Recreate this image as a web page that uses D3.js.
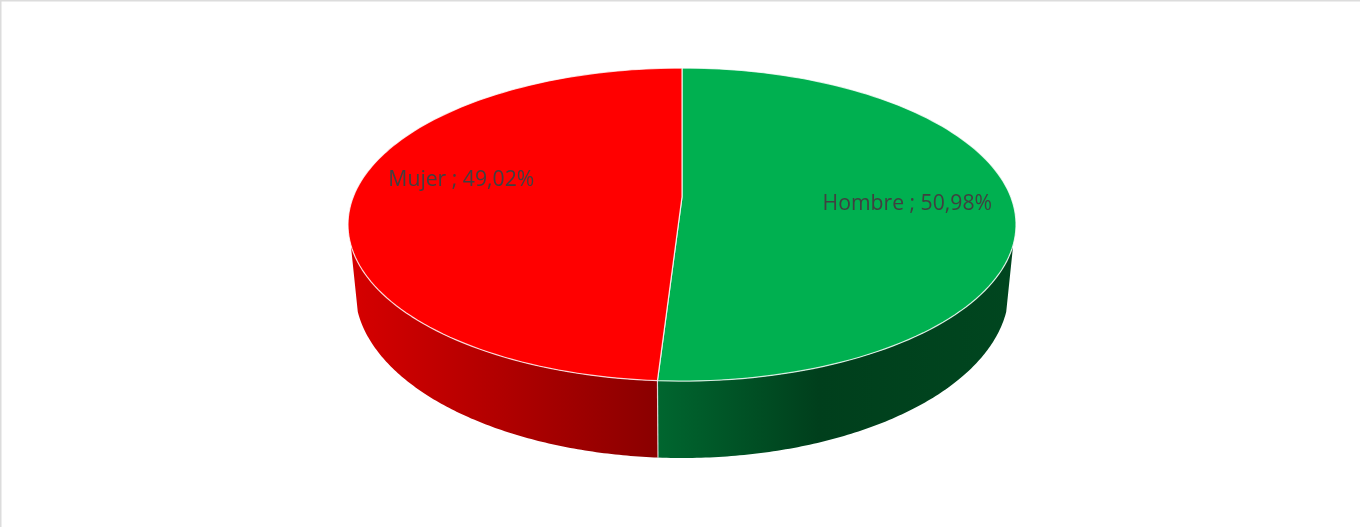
<!DOCTYPE html>
<html lang="es">
  <head>
    <meta charset="UTF-8" />
    <title>Hombre / Mujer</title>
    <style>
        html, body { margin: 0; background: #fff; }
        svg { display: block; }
        .pie3d { filter: blur(0.45px); }
        .label { font-family: "Open Sans", sans-serif; font-size: 21.2px; fill: #404040; text-anchor: middle; }
    </style>
    <script src="https://d3js.org/d3.v7.min.js"></script>
  </head>
  <body>
    <svg id="chart" width="1360" height="527"></svg>
    <script>
        const categories = ["Hombre", "Mujer"];
        const values = [50.98, 49.02];
        const topColors = ["#00b050", "#ff0000"];
        const sideStops = [
            [[0, "#00662f"], [0.45, "#003f1c"], [1, "#00461f"]],
            [[0, "#d60000"], [1, "#8a0000"]]
        ];

        const width = 1360, height = 527;
        const cx = 682, cy = 197;      // where the slices meet
        const a = 328.8, b = 151.7;    // pie radius before perspective
        const k = 0.176;               // perspective strength
        const lowRx = 327, lowRy = 168, lowCy = 290;  // curve of the wall's lower edge
        const hideFrom = 107.4 * Math.PI / 180, hideTo = 252.6 * Math.PI / 180;

        const root = d3.select("#chart");
        root.append("rect").attr("width", width).attr("height", height).attr("fill", "#fff");
        root.append("path").attr("d", `M0.75,${height}V0.75H${width}`)
            .attr("fill", "none").attr("stroke", "#dcdcdc").attr("stroke-width", 1.5);
        const svg = root.append("g").attr("class", "pie3d");

        // angle from 12 o'clock, clockwise -> flat position on the top face
        function flat(t, r) {
            const u = r * Math.sin(t), v = -r * Math.cos(t);
            const w = 1 - k * v;
            return [a * u / w, b * v / w];
        }
        const topPt = (t, r = 1) => { const p = flat(t, r); return [cx + p[0], cy + p[1]]; };
        function lowPt(t) {
            const x = flat(t, 1)[0] * 0.979;
            return [cx + x, lowCy + lowRy * Math.sqrt(Math.max(0, 1 - (x / lowRx) * (x / lowRx)))];
        }
        const arcAngles = (s, e) => d3.range(0, 121).map(i => s + (e - s) * i / 120);
        const line = d3.line();

        const pie = d3.pie().sort(null)(values);

        const defs = root.append("defs");
        sideStops.forEach((stops, i) => {
            const x1 = i === 0 ? 658 : 350, x2 = i === 0 ? 1016 : 658;
            const g = defs.append("linearGradient").attr("id", "side" + i)
                .attr("gradientUnits", "userSpaceOnUse")
                .attr("x1", x1).attr("x2", x2).attr("y1", 0).attr("y2", 0);
            stops.forEach(s => g.append("stop").attr("offset", s[0]).attr("stop-color", s[1]));
        });

        // side wall, only the part facing the viewer
        svg.append("g").selectAll("path")
            .data(pie)
            .join("path")
            .attr("d", d => {
                const s = Math.max(d.startAngle, hideFrom), e = Math.min(d.endAngle, hideTo);
                const ang = arcAngles(s, e);
                return line(ang.map(t => topPt(t)).concat(ang.reverse().map(lowPt))) + "Z";
            })
            .attr("fill", (d, i) => `url(#side${i})`);

        // seam between the two walls
        const seam = pie[0].endAngle;
        svg.append("path").attr("d", line([topPt(seam), lowPt(seam)]))
            .attr("stroke", "#fff").attr("stroke-opacity", 0.75).attr("stroke-width", 1.2);

        // top face
        svg.append("g").selectAll("path")
            .data(pie)
            .join("path")
            .attr("d", d => line([[cx, cy]].concat(arcAngles(d.startAngle, d.endAngle).map(t => topPt(t)))) + "Z")
            .attr("fill", (d, i) => topColors[i])
            .attr("stroke", "#fff")
            .attr("stroke-opacity", 0.8)
            .attr("stroke-width", 1.2)
            .attr("stroke-linejoin", "round");

        // data labels
        const labelR = 0.68, labelDy = [10, -8];
        svg.append("g").selectAll("text")
            .data(pie)
            .join("text")
            .attr("class", "label")
            .attr("x", (d, i) => topPt((d.startAngle + d.endAngle) / 2, labelR)[0] + (i ? 2 : 1))
            .attr("y", (d, i) => topPt((d.startAngle + d.endAngle) / 2, labelR)[1] + labelDy[i])
            .text((d, i) => `${categories[i]} ; ${d.value.toFixed(2).replace(".", ",")}%`);
    </script>
  </body>
</html>
